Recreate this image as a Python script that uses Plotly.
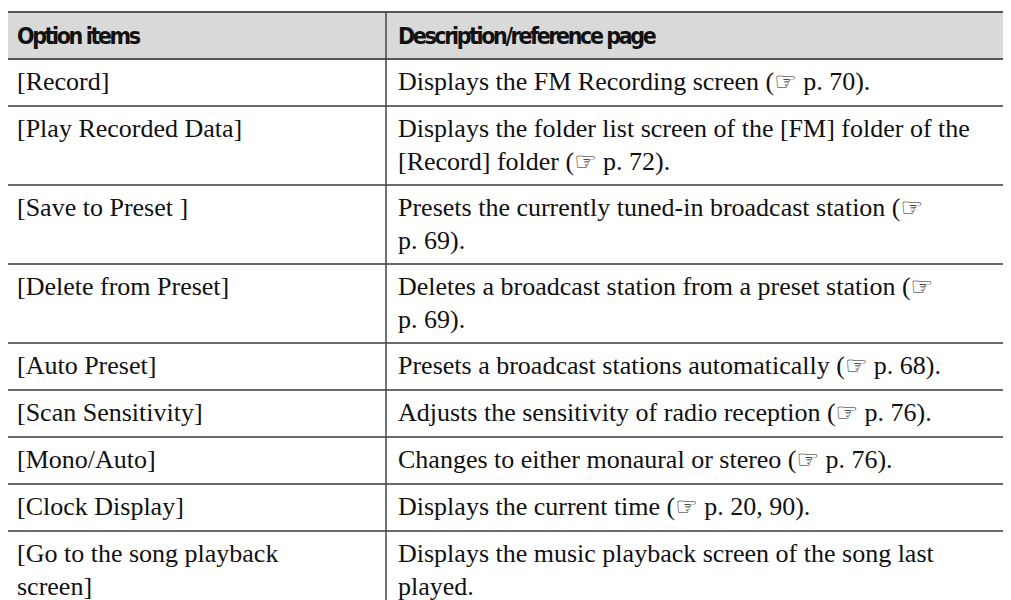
import plotly.graph_objects as go

header_labels = ["Option items", "Description/reference page"]

option_items = [
    "[Record]",
    "[Play Recorded Data]",
    "[Save to Preset ]",
    "[Delete from Preset]",
    "[Auto Preset]",
    "[Scan Sensitivity]",
    "[Mono/Auto]",
    "[Clock Display]",
    "[Go to the song playback<br>screen]",
]

descriptions = [
    "Displays the FM Recording screen (☞ p. 70).",
    "Displays the folder list screen of the [FM] folder of the<br>[Record] folder (☞ p. 72).",
    "Presets the currently tuned-in broadcast station (☞<br>p. 69).",
    "Deletes a broadcast station from a preset station (☞<br>p. 69).",
    "Presets a broadcast stations automatically (☞ p. 68).",
    "Adjusts the sensitivity of radio reception (☞ p. 76).",
    "Changes to either monaural or stereo (☞ p. 76).",
    "Displays the current time (☞ p. 20, 90).",
    "Displays the music playback screen of the song last<br>played.",
]

# the page adds an 8px body margin, so the figure is offset by that margin
PAGE_MARGIN = 8
W, H = 1011, 600
FIG_W, FIG_H = W - PAGE_MARGIN, H - PAGE_MARGIN

X_LEFT, X_DIV, X_RIGHT = 7, 386, 1011
TOP = 12
HEAD_H = 47
ONE_LINE_H = 47
EXTRA_LINE_H = 32
LINE_GAP = 33
PAD_X = 8
TEXT_OFFSET = 6

body_font = dict(family="Liberation Serif, 'DejaVu Serif', serif", size=26, color="#111111")
head_font = dict(family="'DejaVu Sans Condensed', 'DejaVu Sans', sans-serif", size=23, color="#111111")

HAND = "☞"
HAND_STYLED = ("<span style=\"font-family:'DejaVu Sans';font-weight:bold;font-size:25px\">"
               + HAND + "</span>")

fig = go.Figure()

# header background
fig.add_shape(type="rect", xref="x", yref="y", x0=X_LEFT, x1=X_RIGHT + 5, y0=TOP, y1=TOP + HEAD_H,
              fillcolor="#d9d9d9", line_width=0, layer="below")

col_x = [X_LEFT + PAD_X, X_DIV + PAD_X + 2]

def head_text(t):
    return ("<span style=\"font-stretch:condensed;font-weight:bold;letter-spacing:-2.4px\">"
            + t + "</span>")

for cx, lab in zip(col_x, header_labels):
    fig.add_annotation(x=cx, y=TOP + HEAD_H / 2 + 0.5, xref="x", yref="y", text=head_text(lab),
                       showarrow=False, xanchor="left", yanchor="middle", font=head_font)

row_tops = []
y = TOP + HEAD_H
for item, desc in zip(option_items, descriptions):
    n_lines = max(item.count("<br>"), desc.count("<br>")) + 1
    h = ONE_LINE_H + EXTRA_LINE_H * (n_lines - 1)
    row_tops.append(y)
    for cx, txt in zip(col_x, [item, desc]):
        for i, line in enumerate(txt.split("<br>")):
            fig.add_annotation(x=cx, y=y + TEXT_OFFSET + i * LINE_GAP, xref="x", yref="y",
                               text=line.replace(HAND, HAND_STYLED),
                               showarrow=False, xanchor="left", yanchor="top", align="left",
                               font=body_font)
    y += h
bottom = y

# horizontal lines
fig.add_shape(type="line", xref="x", yref="y", x0=X_LEFT, x1=X_RIGHT + 5, y0=TOP, y1=TOP,
              line=dict(color="#555555", width=2))
fig.add_shape(type="line", xref="x", yref="y", x0=X_LEFT, x1=X_RIGHT + 5, y0=TOP + HEAD_H, y1=TOP + HEAD_H,
              line=dict(color="#555555", width=2))
for rt in row_tops[1:]:
    fig.add_shape(type="line", xref="x", yref="y", x0=X_LEFT, x1=X_RIGHT + 5, y0=rt, y1=rt,
                  line=dict(color="#6a6a6a", width=2))
fig.add_shape(type="line", xref="x", yref="y", x0=X_LEFT, x1=X_RIGHT + 5, y0=bottom, y1=bottom,
              line=dict(color="#555555", width=2))

# vertical lines
for vx in [X_LEFT, X_DIV]:
    fig.add_shape(type="line", xref="x", yref="y", x0=vx, x1=vx, y0=TOP, y1=bottom,
                  line=dict(color="#444444", width=1.5))

fig.update_layout(
    width=FIG_W,
    height=FIG_H,
    margin=dict(l=0, r=0, t=0, b=0),
    paper_bgcolor="white",
    plot_bgcolor="white",
    showlegend=False,
    xaxis=dict(range=[PAGE_MARGIN, PAGE_MARGIN + FIG_W], visible=False, fixedrange=True),
    yaxis=dict(range=[PAGE_MARGIN + FIG_H, PAGE_MARGIN], visible=False, fixedrange=True),
)

fig.write_html("out.html")
